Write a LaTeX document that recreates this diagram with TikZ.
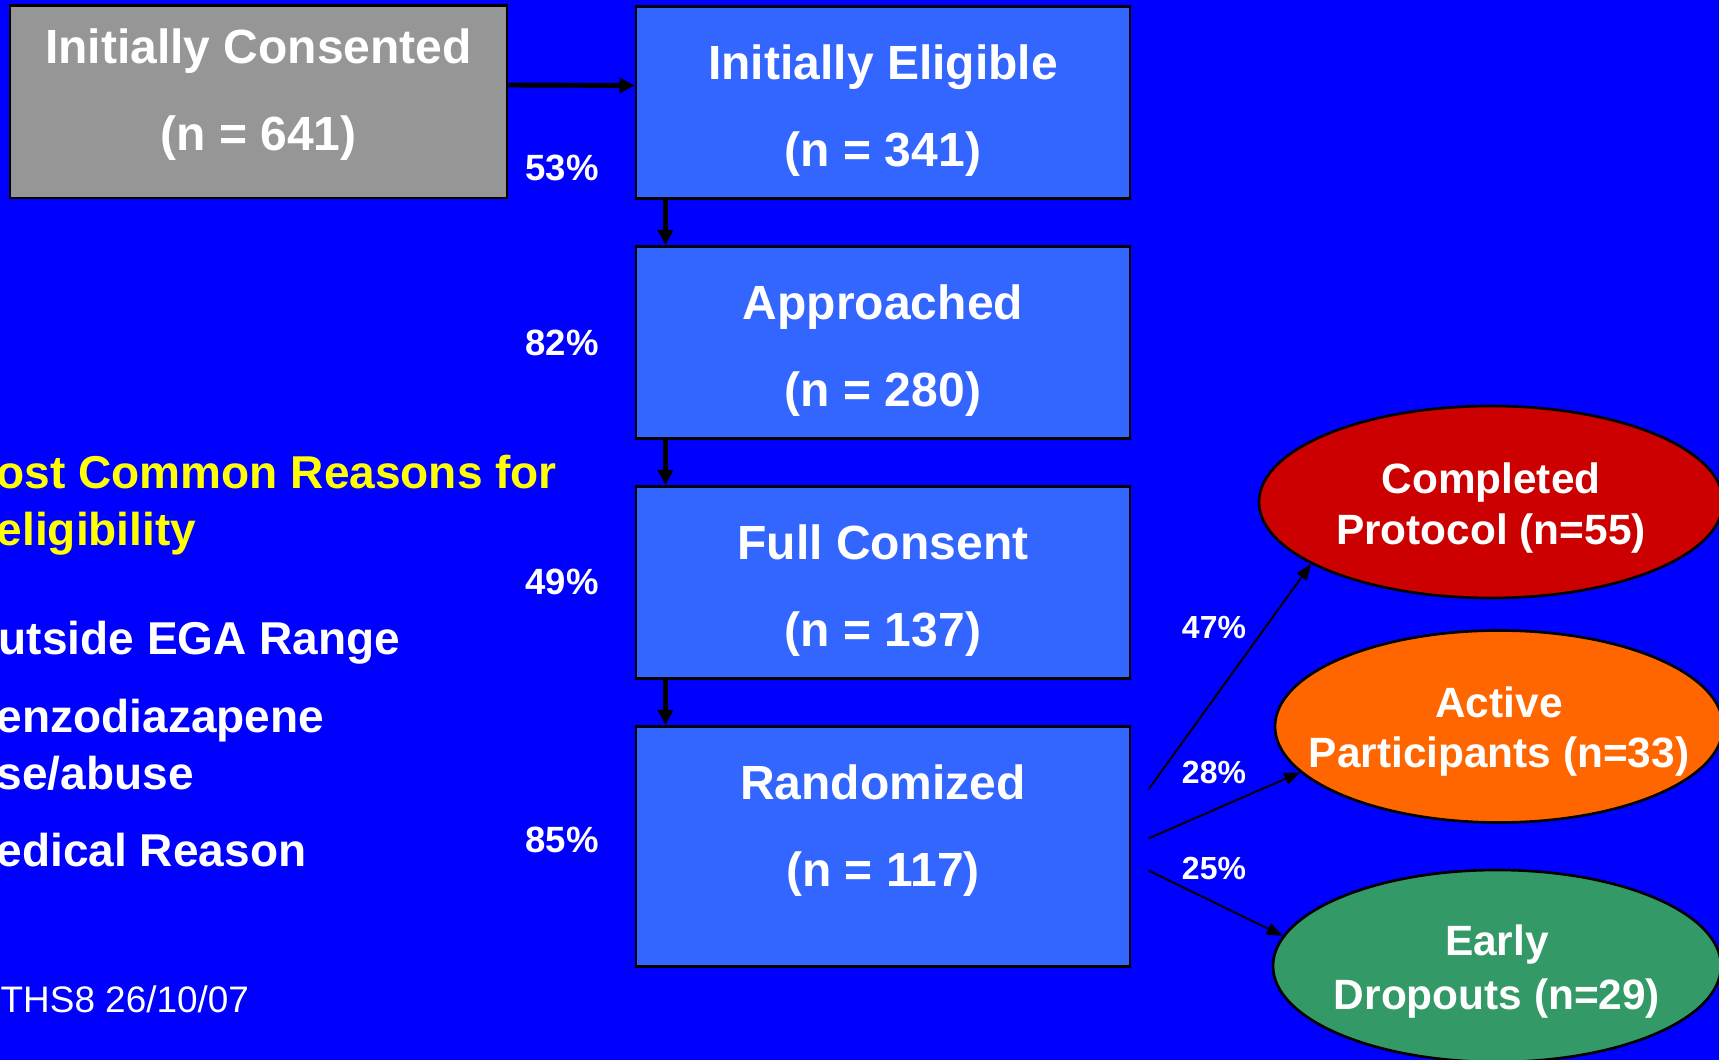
\documentclass[tikz,border=0pt]{standalone}
\usepackage{fontspec}
\setmainfont{Liberation Sans}
\usetikzlibrary{positioning,shapes.geometric,arrows.meta}
\definecolor{slideblue}{HTML}{0000FF}
\definecolor{stageblue}{HTML}{3366FF}
\definecolor{consgray}{HTML}{969696}
\definecolor{donered}{HTML}{CC0000}
\definecolor{activeorange}{HTML}{FF6600}
\definecolor{earlygreen}{HTML}{339966}
\definecolor{reasonyellow}{HTML}{FFFF00}
\newcommand{\stagefont}{\bfseries\fontsize{13.66}{24.75}\selectfont}
\newcommand{\outfont}{\bfseries\fontsize{12.06}{14.4}\selectfont}
\newcommand{\reasonfont}{\bfseries\fontsize{13.1}{16.2}\selectfont}

\begin{document}
\begin{tikzpicture}[
	          stage/.style = {draw, line width=0.85pt, fill=stageblue, minimum width=4.94cm, minimum height=1.92cm, inner sep=0pt},
	      stagetext/.style = {text=white, font=\stagefont, align=center, inner sep=0pt},
	        outcome/.style = {ellipse, draw, line width=0.75pt, minimum width=4.48cm, minimum height=1.92cm, inner sep=0pt},
	        outtext/.style = {text=white, font=\outfont, align=center, inner sep=0pt},
	           rate/.style = {text=white, font=\bfseries\fontsize{10.4}{12}\selectfont, inner sep=0pt},
	        outrate/.style = {text=white, font=\bfseries\fontsize{9.1}{11}\selectfont, inner sep=0pt},
	         reason/.style = {text=white, font=\reasonfont, align=left, anchor=west, inner sep=0pt},
	           flow/.style = {line width=1.4pt, -{Triangle[length=0.15cm, width=0.15cm]}},
	          split/.style = {line width=0.55pt, -{Triangle[length=0.16cm, width=0.12cm]}},
	          node distance = 0.45cm,
	                     ]
	\fill[slideblue] (0,0) rectangle (17.19,-10.60);
	\useasboundingbox (0,0) rectangle (17.19,-10.60);
	\node[stage, fill=consgray, minimum width=4.97cm, label={[stagetext, yshift=0.075cm]center:{Initially Consented\\(n = 641)}}] (cons) at (2.585,-1.02) {};
	\node[stage, label={[stagetext, yshift=-0.085cm]center:{Initially Eligible\\(n = 341)}}] (elig) at (8.83,-1.025) {};
	\node[stage, below=of elig, label={[stagetext, yshift=-0.085cm]center:{Approached\\(n = 280)}}] (appr) {};
	\node[stage, below=of appr, label={[stagetext, yshift=-0.085cm]center:{Full Consent\\(n = 137)}}] (fcons) {};
	\node[stage, below=of fcons, minimum height=2.40cm, label={[stagetext, yshift=0.16cm]center:{Randomized\\(n = 117)}}] (rand) {};
	\draw[flow] ([yshift=0.17cm]cons.east) -- ([yshift=0.17cm]elig.west);
	\draw[flow] ([xshift=0.31cm]elig.south west) -- ([xshift=0.31cm]appr.north west);
	\draw[flow] ([xshift=0.31cm]appr.south west) -- ([xshift=0.31cm]fcons.north west);
	\draw[flow] ([xshift=0.31cm]fcons.south west) -- ([xshift=0.31cm]rand.north west);
	\node[rate] (r53) at (5.62,-1.68) {53\%};
	\node[rate] (r82) at (5.62,-3.43) {82\%};
	\node[rate] (r49) at (5.62,-5.82) {49\%};
	\node[rate] (r85) at (5.62,-8.40) {85\%};
	\node[outcome, fill=donered, minimum width=4.64cm, label={[outtext, yshift=-0.06cm]center:{Completed\\Protocol (n=55)}}] (done) at (14.91,-5.02) {};
	\node[outcome, fill=activeorange, label={[outtext, yshift=-0.05cm]center:{Active\\Participants (n=33)}}] (active) at (14.99,-7.265) {};
	\node[outcome, fill=earlygreen, label={[outtext, font=\bfseries\fontsize{12.06}{15.6}\selectfont, yshift=-0.055cm]center:{Early\\Dropouts (n=29)}}] (early) at (14.97,-9.66) {};
	\coordinate (s1) at ([xshift=0.17cm, yshift=0.57cm]rand.east);
	\coordinate (s2) at ([xshift=0.17cm, yshift=0.08cm]rand.east);
	\coordinate (s3) at ([xshift=0.17cm, yshift=-0.24cm]rand.east);
	\draw[split] (s1) -- (done.199);
	\draw[split] (s2) -- (active.193);
	\draw[split] (s3) -- (early.172);
	\node[outrate] (r47) at (12.14,-6.28) {47\%};
	\node[outrate] (r28) at (12.14,-7.72) {28\%};
	\node[outrate] (r25) at (12.14,-8.68) {25\%};
	\node[reason, text=reasonyellow] (head) at (-0.04,-5.05) {ost Common Reasons for\\eligibility};
	\node[reason] (outside) at (-0.02,-6.43) {utside EGA Range};
	\node[reason] (benzo) at (-0.04,-7.445) {enzodiazapene\\se/abuse};
	\node[reason] (medical) at (-0.04,-8.50) {edical Reason};
	\node[reason, font=\fontsize{10.5}{12}\selectfont] (stamp) at (0,-9.99) {THS8 26/10/07};
\end{tikzpicture}
\end{document}
